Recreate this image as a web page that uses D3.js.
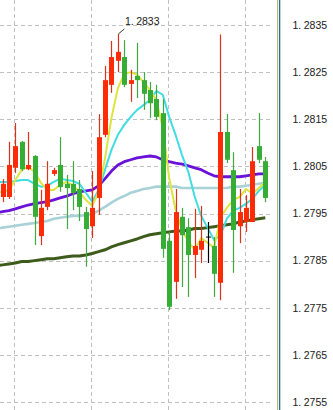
<!DOCTYPE html>
<html>
<head>
<meta charset="utf-8">
<script src="https://cdn.jsdelivr.net/npm/d3@7"></script>
<style>
	html, body { margin: 0; padding: 0; background: #fff; overflow: hidden; }
	svg { display: block; font-family: 'Liberation Sans', Arial, sans-serif; }
</style>
</head>
<body>
<div id="chart"></div>
<script>
	// candles (red = up, green = down)
	var opens = [1.27985, 1.27985, 1.28047, 1.28102, 1.28044, 1.28072, 1.27902, 1.27964, 1.28034, 1.28053,
		1.28013, 1.28013, 1.28002, 1.27953, 1.27923, 1.27983, 1.28117, 1.28223, 1.28274, 1.28282,
		1.28225, 1.28242, 1.28233, 1.28212, 1.28193, 1.28163, 1.27892, 1.27805, 1.27943, 1.27921,
		1.27862, 1.27873, 1.27900, 1.27881, 1.27803, 1.28123, 1.28042, 1.27923, 1.27932, 1.27932,
		1.28093, 1.28061];
	var highs = [1.28023, 1.28102, 1.28142, 1.28104, 1.28123, 1.28074, 1.28000, 1.28061, 1.28047, 1.28112,
		1.28032, 1.28061, 1.28021, 1.27964, 1.28040, 1.28161, 1.28263, 1.28316, 1.28331, 1.28318,
		1.28255, 1.28312, 1.28250, 1.28229, 1.28223, 1.28193, 1.27911, 1.28002, 1.27962, 1.27940,
		1.27960, 1.27966, 1.27932, 1.27900, 1.28330, 1.28161, 1.28080, 1.28002, 1.27989, 1.28091,
		1.28163, 1.28070];
	var lows = [1.27974, 1.27981, 1.28036, 1.28040, 1.28042, 1.27883, 1.27883, 1.27957, 1.28030, 1.27996,
		1.27917, 1.27957, 1.27934, 1.27837, 1.27898, 1.27947, 1.28112, 1.28206, 1.28250, 1.28218,
		1.28187, 1.28195, 1.28170, 1.28153, 1.28148, 1.27856, 1.27745, 1.27769, 1.27794, 1.27773,
		1.27813, 1.27845, 1.27845, 1.27773, 1.27766, 1.28057, 1.27824, 1.27887, 1.27911, 1.27932,
		1.28057, 1.27974];
	var closes = [1.28013, 1.28053, 1.28093, 1.28044, 1.28053, 1.27943, 1.27962, 1.28013, 1.28042, 1.28006,
		1.28004, 1.27994, 1.27964, 1.27917, 1.27962, 1.28112, 1.28233, 1.28282, 1.28293, 1.28223,
		1.28233, 1.28233, 1.28204, 1.28184, 1.28155, 1.27875, 1.27752, 1.27953, 1.27904, 1.27862,
		1.27881, 1.27892, 1.27900, 1.27822, 1.28123, 1.28064, 1.27915, 1.27953, 1.27962, 1.28061,
		1.28064, 1.27983];

	// moving averages, first value is one bar before the first candle
	var maYellow = [1.27994, 1.27996, 1.28000, 1.28021, 1.28043, 1.28049, 1.28038, 1.28015, 1.28000, 1.28000,
		1.28011, 1.28017, 1.28009, 1.27996, 1.27979, 1.27966, 1.27996, 1.28068, 1.28153, 1.28216,
		1.28246, 1.28250, 1.28244, 1.28229, 1.28212, 1.28191, 1.28132, 1.28026, 1.27958, 1.27915,
		1.27890, 1.27873, 1.27898, 1.27888, 1.27877, 1.27941, 1.27962, 1.27979, 1.27985, 1.28002,
		1.27992, 1.28004, 1.28017];
	var maCyan = [1.28017, 1.28017, 1.28017, 1.28019, 1.28021, 1.28021, 1.28013, 1.28007, 1.28009, 1.28017,
		1.28024, 1.28021, 1.28019, 1.28013, 1.27994, 1.27975, 1.28000, 1.28043, 1.28085, 1.28117,
		1.28138, 1.28155, 1.28170, 1.28180, 1.28191, 1.28210, 1.28202, 1.28155, 1.28117, 1.28074,
		1.28038, 1.27985, 1.27945, 1.27920, 1.27894, 1.27903, 1.27939, 1.27956, 1.27962, 1.27971,
		1.27981, 1.27998, 1.28011];
	var maPurple = [1.27951, 1.27954, 1.27956, 1.27960, 1.27964, 1.27968, 1.27971, 1.27973, 1.27975, 1.27979,
		1.27983, 1.27987, 1.27992, 1.27996, 1.27998, 1.28000, 1.28009, 1.28024, 1.28040, 1.28053,
		1.28060, 1.28064, 1.28068, 1.28070, 1.28072, 1.28070, 1.28064, 1.28060, 1.28057, 1.28055,
		1.28051, 1.28047, 1.28043, 1.28036, 1.28030, 1.28028, 1.28028, 1.28028, 1.28028, 1.28030,
		1.28032, 1.28034, 1.28034];
	var maLightBlue = [1.27918, 1.27920, 1.27922, 1.27924, 1.27926, 1.27928, 1.27930, 1.27932, 1.27934, 1.27939,
		1.27941, 1.27943, 1.27945, 1.27945, 1.27947, 1.27949, 1.27956, 1.27964, 1.27973, 1.27981,
		1.27987, 1.27994, 1.27998, 1.28002, 1.28004, 1.28007, 1.28007, 1.28007, 1.28007, 1.28004,
		1.28004, 1.28004, 1.28004, 1.28004, 1.28004, 1.28004, 1.28004, 1.28007, 1.28007, 1.28009,
		1.28011, 1.28013, 1.28015];
	var maOlive = [1.27839, 1.27841, 1.27843, 1.27845, 1.27848, 1.27848, 1.27850, 1.27852, 1.27854, 1.27854,
		1.27856, 1.27858, 1.27860, 1.27860, 1.27862, 1.27865, 1.27869, 1.27873, 1.27879, 1.27884,
		1.27888, 1.27892, 1.27896, 1.27901, 1.27905, 1.27907, 1.27909, 1.27911, 1.27913, 1.27913,
		1.27915, 1.27918, 1.27918, 1.27920, 1.27922, 1.27924, 1.27926, 1.27928, 1.27932, 1.27934,
		1.27937, 1.27939, 1.27941];

	var priceTicks = [1.2835, 1.2825, 1.2815, 1.2805, 1.2795, 1.2785, 1.2775, 1.2765, 1.2755];
	var gridBars = [2, 14, 26, 38];
	var peakBar = 18;

	var width = 333, height = 410;
	var plotRight = 270;

	var svg = d3.select('#chart')
		.append('svg')
		.attr('width', width)
		.attr('height', height);

	var x = d3.scaleLinear()
		.domain([0, opens.length - 1])
		.range([2.5, 265.3]);
	var y = d3.scaleLinear()
		.domain([1.2755, 1.2835])
		.range([402, 25]);

	var fmt = d3.format('.4f');

	// grid
	svg.append('g')
		.selectAll('line')
		.data(priceTicks)
		.enter()
		.append('line')
		.attr('x1', 0)
		.attr('x2', plotRight)
		.attr('y1', function (d) { return Math.round(y(d)) + 0.5; })
		.attr('y2', function (d) { return Math.round(y(d)) + 0.5; })
		.attr('stroke', '#c0c0c0')
		.attr('stroke-dasharray', '4,3');

	svg.append('g')
		.selectAll('line')
		.data(gridBars)
		.enter()
		.append('line')
		.attr('x1', function (d) { return Math.round(x(d)) - 0.5; })
		.attr('x2', function (d) { return Math.round(x(d)) - 0.5; })
		.attr('y1', 0)
		.attr('y2', height)
		.attr('stroke', '#c0c0c0')
		.attr('stroke-dasharray', '4,3');

	// moving averages
	var line = d3.line()
		.x(function (d, i) { return x(i - 1); })
		.y(function (d) { return y(d); });

	var maLines = [
		{values: maOlive, color: '#3d5c1c', w: 3},
		{values: maLightBlue, color: '#a9d2d8', w: 2.6},
		{values: maPurple, color: '#6a12d8', w: 2.8},
		{values: maCyan, color: '#40dde2', w: 2},
		{values: maYellow, color: '#dde43e', w: 2}
	];

	maLines.forEach(function (m) {
		svg.append('path')
			.datum(m.values)
			.attr('fill', 'none')
			.attr('stroke', m.color)
			.attr('stroke-width', m.w)
			.attr('stroke-linejoin', 'round')
			.attr('d', line);
	});

	// candles
	var bars = d3.range(opens.length);
	function candleColor(i, wick) {
		if (opens[i] === closes[i]) {
			return '#000';
		}
		if (closes[i] > opens[i]) {
			return wick ? '#d8341c' : '#ff2b06';
		}
		return wick ? '#43a843' : '#36ae36';
	}

	var candles = svg.append('g');
	candles.selectAll('line.wick')
		.data(bars)
		.enter()
		.append('line')
		.attr('class', 'wick')
		.attr('x1', function (i) { return Math.round(x(i)) + 0.5; })
		.attr('x2', function (i) { return Math.round(x(i)) + 0.5; })
		.attr('y1', function (i) { return y(highs[i]); })
		.attr('y2', function (i) { return y(lows[i]); })
		.attr('stroke', function (i) { return candleColor(i, true); })
		.attr('stroke-width', 1.2);

	candles.selectAll('rect')
		.data(bars.filter(function (i) { return opens[i] !== closes[i]; }))
		.enter()
		.append('rect')
		.attr('x', function (i) { return Math.round(x(i)) - 2; })
		.attr('width', 5)
		.attr('y', function (i) { return y(Math.max(opens[i], closes[i])); })
		.attr('height', function (i) {
			return Math.max(1.5, Math.abs(y(opens[i]) - y(closes[i])));
		})
		.attr('fill', function (i) { return candleColor(i, false); });

	// doji tick
	candles.selectAll('line.doji')
		.data(bars.filter(function (i) { return opens[i] === closes[i]; }))
		.enter()
		.append('line')
		.attr('class', 'doji')
		.attr('x1', function (i) { return Math.round(x(i)) - 2; })
		.attr('x2', function (i) { return Math.round(x(i)) + 3; })
		.attr('y1', function (i) { return y(opens[i]); })
		.attr('y2', function (i) { return y(opens[i]); })
		.attr('stroke', '#000')
		.attr('stroke-width', 1);

	// peak marker
	var px = x(peakBar), py = y(highs[peakBar]);
	svg.append('line')
		.attr('x1', px + 0.5)
		.attr('y1', py)
		.attr('x2', px + 6.5)
		.attr('y2', py - 5)
		.attr('stroke', '#222')
		.attr('stroke-width', 0.9);
	var peakText = svg.append('text')
		.attr('x', px + 7)
		.attr('y', py - 9)
		.attr('font-size', '10.5px')
		.attr('fill', '#1a1a1a');
	peakText.append('tspan').text(fmt(highs[peakBar]).slice(0, 2));
	peakText.append('tspan').attr('dx', 2.5).text(fmt(highs[peakBar]).slice(2));

	// right border
	svg.append('line')
		.attr('x1', 277.5).attr('x2', 277.5)
		.attr('y1', 0).attr('y2', height)
		.attr('stroke', '#bdb870')
		.attr('stroke-width', 1);
	svg.append('line')
		.attr('x1', 279.6).attr('x2', 279.6)
		.attr('y1', 0).attr('y2', height)
		.attr('stroke', '#2f7080')
		.attr('stroke-width', 1.4);

	// price labels
	var labels = svg.append('g')
		.selectAll('text')
		.data(priceTicks)
		.enter()
		.append('text')
		.attr('x', 292.5)
		.attr('y', function (d) { return y(d) + 3.8; })
		.attr('font-size', '10.5px')
		.attr('fill', '#1a1a1a');
	labels.append('tspan').text(function (d) { return fmt(d).slice(0, 2); });
	labels.append('tspan').attr('dx', 2.5).text(function (d) { return fmt(d).slice(2); });
</script>
</body>
</html>
